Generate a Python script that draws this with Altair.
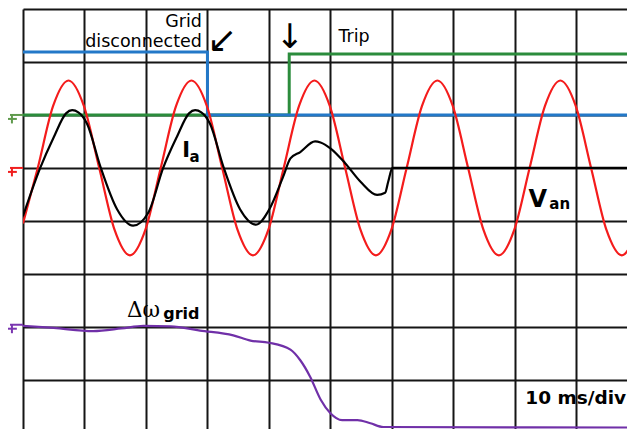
import altair as alt
import pandas as pd

# Oscilloscope capture: time in ms (10 ms/div), vertical position in divisions
# (0 = screen centre, +-4 = top / bottom of the screen).

blue_t = [0.0, 30.0, 30.0, 99.5]
blue_v = [3.19, 3.19, 2.0, 2.0]

green_t = [0.0, 43.3, 43.3, 99.5]
green_v = [2.0, 2.0, 3.15, 3.15]

red_t = [0.0, 2.4, 4.9, 7.4, 9.9, 12.4, 14.9, 17.4, 19.9, 22.4, 24.9, 27.4, 29.9,
         32.4, 34.9, 37.4, 39.9, 42.4, 44.9, 47.4, 49.9, 52.4, 54.9, 57.4, 59.9,
         62.4, 64.9, 67.4, 69.9, 72.4, 74.9, 77.4, 79.9, 82.4, 84.9, 87.4, 89.9,
         92.4, 94.9, 97.4, 99.9]
red_v = [-0.05,
         1.0, 2.17, 2.65, 2.17, 1.0, -0.17, -0.65, -0.17,
         1.0, 2.17, 2.65, 2.17, 1.0, -0.17, -0.65, -0.17,
         1.0, 2.17, 2.65, 2.17, 1.0, -0.17, -0.65, -0.17,
         1.0, 2.17, 2.65, 2.17, 1.0, -0.17, -0.65, -0.17,
         1.0, 2.17, 2.65, 2.17, 1.0, -0.17, -0.65, -0.17]

black_t = [0.0, 2.8, 5.0, 7.0, 8.0, 9.0, 10.4, 12.6, 15.3, 17.9, 20.4,
           22.8, 25.0, 27.0, 28.0, 29.0, 30.4, 32.6, 35.3, 37.9,
           40.2, 42.3, 43.5, 45.1, 47.5, 48.4, 50.0, 52.4, 54.9,
           57.6, 58.9, 59.4, 60.1, 99.5]
black_v = [0.09, 1.0, 1.58, 2.03, 2.09, 2.05, 1.84, 1.02, 0.22, -0.09, 0.16,
           1.0, 1.58, 2.03, 2.09, 2.05, 1.84, 1.02, 0.22, -0.07,
           0.25, 0.83, 1.18, 1.3, 1.5, 1.48, 1.37, 1.09, 0.74,
           0.49, 0.53, 0.74, 1.0, 1.0]

purple_t = [0.0, 5.0, 11.4, 16.0, 19.6, 24.0, 28.8, 34.2, 37.0, 40.0, 43.5, 45.1,
            46.7, 48.4, 50.0, 51.9, 54.4, 56.5, 58.6, 99.5]
purple_v = [-1.98, -2.02, -2.08, -2.03, -1.98, -1.99, -2.07, -2.16, -2.26, -2.30,
            -2.43, -2.63, -2.94, -3.37, -3.63, -3.76, -3.76, -3.82, -3.89, -3.9]

# channel ground markers on the left edge
marker_levels = [2.0, 1.0, -1.96]
marker_colors = ["#5f9a4c", "#f01e1e", "#7a35b0"]

div_ticks_x = [0, 10, 20, 30, 40, 50, 60, 70, 80, 90]
div_ticks_y = [-3, -2, -1, 0, 1, 2, 3, 4]

GRID = "#151515"
xs = alt.Scale(domain=[0, 98.24], nice=False, zero=False)
ys = alt.Scale(domain=[-3.928, 4.0], nice=False, zero=False)
xaxis = alt.Axis(values=div_ticks_x, grid=True, labels=False, ticks=False, domain=False,
                 title="", gridColor=GRID, gridWidth=2, gridOpacity=1)
yaxis = alt.Axis(values=div_ticks_y, grid=True, labels=False, ticks=False, domain=False,
                 title="", gridColor=GRID, gridWidth=2, gridOpacity=1)


def X(field):
    return alt.X(field, scale=xs, axis=xaxis)


def Y(field):
    return alt.Y(field, scale=ys, axis=yaxis)


def trace(t, v, color, width, interp):
    df = pd.DataFrame({"t": t, "v": v, "i": list(range(len(t)))})
    return alt.Chart(df).mark_line(color=color, strokeWidth=width, interpolate=interp,
                                   clip=True).encode(
        x=X("t:Q"), y=Y("v:Q"), order="i:Q")


green = trace(green_t, green_v, "#2b8c3c", 3, "linear")
blue = trace(blue_t, blue_v, "#2378c8", 3, "linear")
red = trace(red_t, red_v, "#f41c1c", 2.2, "monotone")
black = trace(black_t, black_v, "#000000", 2.2, "monotone")
purple = trace(purple_t, purple_v, "#7030a8", 2.2, "monotone")

mdf = pd.DataFrame({"level": marker_levels, "col": marker_colors})
mbase = alt.Chart(mdf)
stub = mbase.transform_calculate(a="-2.11", b="0").mark_rule(strokeWidth=2, clip=False).encode(
    x=X("a:Q"), x2="b:Q", y=Y("level:Q"), color=alt.Color("col:N", scale=None))
drop = mbase.transform_calculate(a="-1.8", lo="datum.level - 0.16").mark_rule(
    strokeWidth=2, clip=False).encode(
    x=X("a:Q"), y=Y("level:Q"), y2="lo:Q", color=alt.Color("col:N", scale=None))
bar = mbase.transform_calculate(a="-2.6", b="-1.0", yy="datum.level - 0.075").mark_rule(
    strokeWidth=2, clip=False).encode(
    x=X("a:Q"), x2="b:Q", y=Y("yy:Q"), color=alt.Color("col:N", scale=None))


def label(text, t, v, font, size, weight="normal", align="left", baseline="alphabetic"):
    df = pd.DataFrame({"t": [t], "v": [v], "s": [text]})
    return alt.Chart(df).mark_text(font=font, fontSize=size, fontWeight=weight,
                                   align=align, baseline=baseline, color="#000000",
                                   clip=False).encode(
        x=X("t:Q"), y=Y("v:Q"), text="s:N")


texts = [
    label("Grid", 29.1, 3.66, "DejaVu Sans", 17.5, align="right"),
    label("disconnected", 29.1, 3.29, "DejaVu Sans", 17.5, align="right"),
    label("Trip", 51.3, 3.38, "DejaVu Sans", 17.5),
    label("↙", 32.4, 3.40, "DejaVu Sans", 36, align="center", baseline="middle"),
    label("↓", 43.4, 3.45, "DejaVu Sans", 34, align="center", baseline="middle"),
    label("I", 25.9, 1.20, "DejaVu Sans", 21, "bold"),
    label("a", 27.1, 1.11, "DejaVu Sans", 15, "bold"),
    label("V", 82.2, 0.255, "DejaVu Sans", 24, "bold"),
    label("an", 85.6, 0.218, "DejaVu Sans", 15, "bold"),
    label("Δω", 16.9, -1.81, "DejaVu Serif", 21.5),
    label("grid", 22.8, -1.85, "DejaVu Sans", 16, "bold"),
    label("10 ms/div", 81.7, -3.465, "DejaVu Sans", 18.5, "bold"),
]

chart = alt.layer(green, blue, red, black, purple, stub, drop, bar, *texts).properties(
    width=604, height=420,
    padding={"left": 15, "top": 1, "right": 0, "bottom": 0},
    autosize=alt.AutoSizeParams(type="none"),
    background="#ffffff",
).configure_view(strokeWidth=0)

chart.save("out.html", embed_options={"renderer": "svg", "actions": False})
